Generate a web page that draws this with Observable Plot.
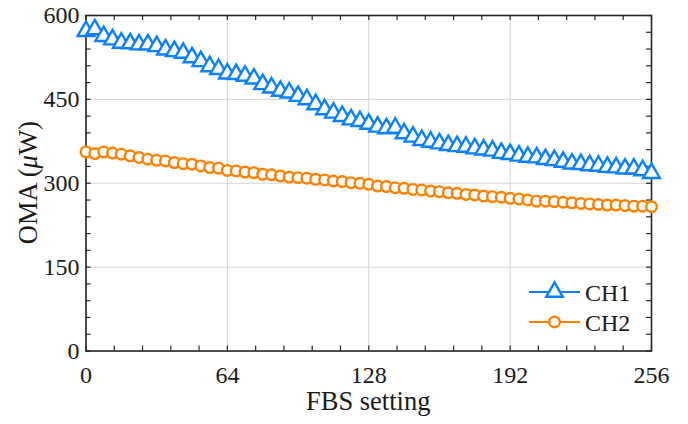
<!DOCTYPE html>
<html><head><meta charset="utf-8">
<script src="https://cdn.jsdelivr.net/npm/d3@7"></script>
<script src="https://cdn.jsdelivr.net/npm/@observablehq/plot@0.6"></script>
<style>body{margin:0;background:#fff} #chart{width:688px;height:424px}</style>
</head><body><div id="chart"></div>
<script>
const fbs = [0,4,8,12,16,20,24,28,32,36,40,44,48,52,56,60,64,68,72,76,80,84,88,92,96,100,104,108,112,116,120,124,128,132,136,140,144,148,152,156,160,164,168,172,176,180,184,188,192,196,200,204,208,212,216,220,224,228,232,236,240,244,248,252,256];
const ch1 = [572,575,563,557,551,550,548,548,545,539,536,533,525,518,509,504,496,495,492,487,477,471,465,462,456,450,441,432,426,420,414,411,406,401,398,399,389,383,377,374,371,368,366,365,362,360,358,354,352,349,347,346,343,341,338,335,334,332,331,329,328,326,326,323,318];
const ch2 = [356,353,356,354,352,349,346,343,341,340,337,335,334,331,328,327,323,322,320,319,316,315,313,311,310,309,307,306,304,303,301,300,298,295,294,292,291,289,288,286,285,283,282,280,279,277,276,275,273,272,270,268,268,267,266,265,264,263,262,261,261,260,259,259,258];
const seriesNames = ["CH1","CH2"];
const xTicks = [0,64,128,192,256];
const xMinor = [12.8,25.6,38.4,51.2,76.8,89.6,102.4,115.2,140.8,153.6,166.4,179.2,204.8,217.6,230.4,243.2];
const yTicks = [0,150,300,450,600];
const yMinor = [30,60,90,120,180,210,240,270,330,360,390,420,480,510,540,570];
const xLabel = "FBS setting";
const yLabelParts = ["OMA (", "\u03bc", "W)"];

const W = 688, H = 424, mL = 85.5, mR = 37, mT = 15, mB = 73.5;
const fw = W - mL - mR, fh = H - mT - mB;
const blue = "#0b80ff", orange = "#ff8000";
const font = "Times New Roman, Liberation Serif, serif";
const ink = "#1a1a1a";

const d1 = fbs.map((x, i) => ({x, y: ch1[i]}));
const d2 = fbs.map((x, i) => ({x, y: ch2[i]}));
const allTicksX = xTicks.concat(xMinor);
const allTicksY = yTicks.concat(yMinor);

const plot = Plot.plot({
  width: W, height: H,
  marginLeft: mL, marginRight: mR, marginTop: mT, marginBottom: mB,
  style: `font-family: ${font}; font-size: 24px; color: ${ink}; background: #fff; overflow: visible;`,
  x: {domain: [0, 256]},
  y: {domain: [0, 600]},
  marks: [
    Plot.ruleX(xTicks, {x: d => d, stroke: "#d6d6d6", strokeWidth: 1}),
    Plot.ruleY(yTicks, {y: d => d, stroke: "#d6d6d6", strokeWidth: 1}),
    Plot.frame({stroke: "#262626", strokeWidth: 1.6}),
    Plot.tickX(allTicksX, {x: d => d, insetTop: fh - 5, stroke: "#262626", strokeWidth: 1.2}),
    Plot.tickX(allTicksX, {x: d => d, insetBottom: fh - 5, stroke: "#262626", strokeWidth: 1.2}),
    Plot.tickY(allTicksY, {y: d => d, insetRight: fw - 5, stroke: "#262626", strokeWidth: 1.2}),
    Plot.tickY(allTicksY, {y: d => d, insetLeft: fw - 5, stroke: "#262626", strokeWidth: 1.2}),
    Plot.line(d2, {x: "x", y: "y", stroke: orange, strokeWidth: 2}),
    Plot.dot(d2, {x: "x", y: "y", symbol: "circle", r: 5.3, stroke: orange, strokeWidth: 2.4, fill: "white"}),
    Plot.line(d1, {x: "x", y: "y", stroke: blue, strokeWidth: 2}),
    Plot.dot(d1, {x: "x", y: "y", symbol: "triangle", r: 6.2, stroke: blue, strokeWidth: 2.4, fill: "white"}),
    Plot.axisX(xTicks, {tickSize: 0, tickPadding: 14.5, label: null, fill: ink, fontSize: 24, fontFamily: font}),
    Plot.axisY(yTicks, {tickSize: 0, tickPadding: 6.5, label: null, fill: ink, fontSize: 24, fontFamily: font})
  ]
});
document.getElementById("chart").appendChild(plot);

const svg = d3.select(plot);
svg.selectAll("text").attr("font-family", font).attr("font-size", 24);

svg.append("text").attr("x", mL + fw / 2).attr("y", 410).attr("text-anchor", "middle")
  .attr("font-family", font).attr("font-size", 26.5).attr("fill", ink).text(xLabel);
const yl = svg.append("text").attr("transform", `translate(37,${mT + fh / 2}) rotate(-90)`)
  .attr("text-anchor", "middle").attr("font-family", font).attr("font-size", 26.5).attr("fill", ink);
yl.append("tspan").text(yLabelParts[0]);
yl.append("tspan").attr("font-style", "italic").text(yLabelParts[1]);
yl.append("tspan").text(yLabelParts[2]);

// legend
const leg = svg.append("g").attr("transform", "translate(529,292)");
const legendItems = [
  {name: seriesNames[0], color: blue, sym: d3.symbolTriangle, size: Math.PI * 6.2 * 6.2},
  {name: seriesNames[1], color: orange, sym: d3.symbolCircle, size: Math.PI * 5.3 * 5.3}
];
legendItems.forEach((it, i) => {
  const g = leg.append("g").attr("transform", `translate(0,${i * 30})`);
  g.append("line").attr("x1", 0).attr("x2", 51).attr("y1", 0).attr("y2", 0)
    .attr("stroke", it.color).attr("stroke-width", 2.2);
  g.append("path").attr("d", d3.symbol(it.sym, it.size)()).attr("transform", "translate(25.5,0)")
    .attr("fill", "white").attr("stroke", it.color).attr("stroke-width", 2.4);
  g.append("text").attr("x", 56).attr("y", 8.5).attr("text-anchor", "start")
    .attr("font-family", font).attr("font-size", 24).attr("fill", ink).text(it.name);
});
</script>
</body></html>
